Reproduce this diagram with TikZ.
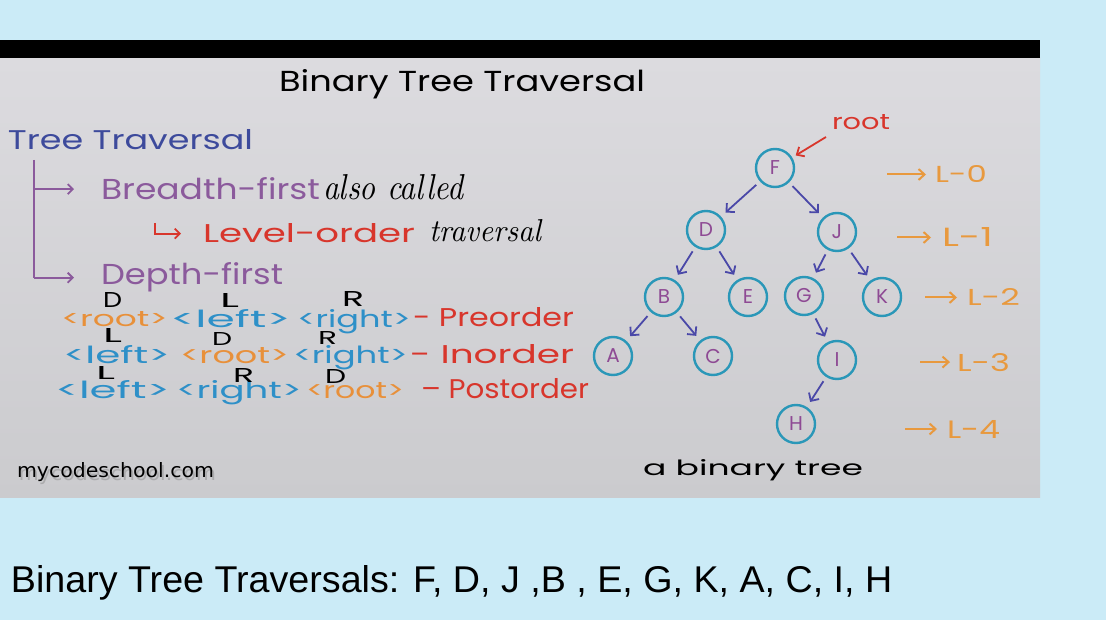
\documentclass[tikz,border=0pt]{standalone}
\usepackage{fontspec}
\usepackage{graphicx}
\usetikzlibrary{arrows.meta}
\newfontfamily\hand{Poppins}
\newfontfamily\webfont{DejaVu Sans}
\newfontfamily\bottomfont{Liberation Sans}
\definecolor{bgblue}{HTML}{CBEBF7}
\definecolor{panelTop}{HTML}{DCDBDF}
\definecolor{panelBot}{HTML}{CBCBCE}
\definecolor{ttblue}{HTML}{3D4A9C}
\definecolor{purp}{HTML}{8B5A9C}
\definecolor{redc}{HTML}{D8362C}
\definecolor{orangec}{HTML}{E8903A}
\definecolor{bluec}{HTML}{2E90C8}
\definecolor{circc}{HTML}{2A97B8}
\definecolor{letc}{HTML}{8E4A94}
\definecolor{edgec}{HTML}{4A48A8}
\definecolor{lvlc}{HTML}{E8993E}
\newcommand\hw[3]{\resizebox{#1pt}{#2pt}{\hand #3}}
\newcommand\cw[3]{\resizebox{#1pt}{#2pt}{\rmfamily\itshape #3}}
\tikzset{
  txt/.style={anchor=base west, inner sep=0pt, outer sep=0pt},
  tnode/.style={circle, draw=circc, line width=2.4pt, minimum size=38pt, inner sep=0pt,
    text=letc, font=\hand\fontsize{20}{20}\selectfont},
  tedge/.style={draw=edgec, line width=1.8pt, -{Straight Barb[length=6pt,width=12pt]},
    shorten <=5pt, shorten >=6pt},
  branch/.style={draw=purp, line width=1.8pt},
  barrow/.style={draw=purp, line width=1.8pt, -{Straight Barb[length=5pt,width=10pt]}},
  lvlarrow/.style={draw=lvlc, line width=2pt, -{Straight Barb[length=6pt,width=11pt]}},
  redarrow/.style={draw=redc, line width=1.8pt, -{Straight Barb[length=6pt,width=11pt]}},
}
\begin{document}
\begin{tikzpicture}[x=1pt,y=-1pt]
\useasboundingbox (0,0) rectangle (1106,620);
\fill[bgblue] (0,0) rectangle (1106,620);
\shade[top color=panelTop, bottom color=panelBot] (0,58) rectangle (1040,497);
\fill[black] (0,40) rectangle (1040,58);

% title
\node[txt] (title) at (279,92) {\hw{366}{22}{Binary Tree Traversal}};

% left column
\node[txt, text=ttblue] (tt) at (8,150) {\hw{245}{20}{Tree Traversal}};
\node[txt, text=purp] (breadth) at (101,200) {\hw{219}{22}{Breadth-first}};
\node[txt] (also) at (323,200) {\cw{140}{25}{also called}};
\node[txt, text=redc] (level) at (203,243) {\hw{212}{19}{Level-order}};
\node[txt] (trav) at (429,242) {\cw{112}{22}{traversal}};
\node[txt, text=purp] (depth) at (101,285) {\hw{182}{22}{Depth-first}};

\coordinate (trunk) at (34,160);
\draw[branch] (trunk) -- (trunk |- depth.west);
\draw[barrow] (trunk |- breadth.west) -- ([xshift=-27pt]breadth.west);
\draw[barrow] (trunk |- depth.west) -- ([xshift=-27pt]depth.west);
\coordinate (lvtop) at (155,223);
\draw[draw=redc, line width=1.8pt, -{Straight Barb[length=5pt,width=10pt]}] (lvtop) |- ([xshift=-22pt]level.west);

% line 1
\node[txt, text=orangec] (a1) at (61,327) {\hw{107}{15}{<root>}};
\node[txt, text=bluec] (b1) at (170,327) {\hw{121}{18}{<left>}};
\node[txt, text=bluec] (c1) at (297,327) {\hw{114}{18}{<right>}};
\node[txt, text=redc] (d1) at (413,327) {\hw{161}{19}{- Preorder}};
\node[txt] (x1) at (103,308) {\hw{19}{15}{D}};
\node[txt] (y1) at (220,308) {\hw{19}{14}{L}};
\node[txt] (z1) at (342,307) {\hw{22}{15}{R}};

% line 2
\node[txt, text=bluec] (a2) at (63,363) {\hw{107}{18}{<left>}};
\node[txt, text=orangec] (b2) at (180,363) {\hw{109}{16}{<root>}};
\node[txt, text=bluec] (c2) at (293,363) {\hw{115}{18}{<right>}};
\node[txt, text=redc] (d2) at (410,363) {\hw{164}{19}{- Inorder}};
\node[txt] (x2) at (103,343) {\hw{19}{14}{L}};
\node[txt] (y2) at (212,346) {\hw{20}{13}{D}};
\node[txt] (z2) at (318,345) {\hw{19}{13}{R}};

% line 3
\node[txt, text=bluec] (a3) at (55,398) {\hw{115}{18}{<left>}};
\node[txt, text=bluec] (b3) at (176,398) {\hw{126}{18}{<right>}};
\node[txt, text=orangec] (c3) at (306,398) {\hw{98}{16}{<root>}};
\node[txt, text=redc] (d3) at (421,398) {\hw{168}{20}{– Postorder}};
\node[txt] (x3) at (96,380) {\hw{19}{13}{L}};
\node[txt] (y3) at (233,382) {\hw{21}{14}{R}};
\node[txt] (z3) at (325,383) {\hw{21}{14}{D}};

% watermark
\node[txt, text=black!45, opacity=.5] (wms) at (19,480) {\resizebox{197pt}{15pt}{\webfont mycodeschool.com}};
\node[txt] (wm) at (17,477) {\resizebox{197pt}{15pt}{\webfont mycodeschool.com}};

% tree
\node[tnode] (F) at (775,168) {F};
\node[tnode] (D) at (706,230) {D};
\node[tnode] (J) at (837,232) {J};
\node[tnode] (B) at (664,297) {B};
\node[tnode] (E) at (748,297) {E};
\node[tnode] (G) at (804,296) {G};
\node[tnode] (K) at (882,297) {K};
\node[tnode] (A) at (613,356) {A};
\node[tnode] (C) at (713,356) {C};
\node[tnode] (I) at (837,360) {I};
\node[tnode] (H) at (796,424) {H};
\draw[tedge] (F) -- (D);
\draw[tedge] (F) -- (J);
\draw[tedge] (D) -- (B);
\draw[tedge] (D) -- (E);
\draw[tedge] (J) -- (G);
\draw[tedge] (J) -- (K);
\draw[tedge] (B) -- (A);
\draw[tedge] (B) -- (C);
\draw[tedge] (G) -- (I);
\draw[tedge] (I) -- (H);

\node[txt, text=redc] (root) at (832,130) {\hw{58}{15}{root}};
\coordinate (rs) at (826,137);
\draw[redarrow, shorten >=4pt] (rs) -- (F);

% levels
\node[txt, text=lvlc] (L0) at (935,183) {\hw{52}{17}{L-0}};
\node[txt, text=lvlc] (L1) at (942,247) {\hw{51}{19}{L-1}};
\node[txt, text=lvlc] (L2) at (967,306) {\hw{53}{17}{L-2}};
\node[txt, text=lvlc] (L3) at (957,371) {\hw{53}{18}{L-3}};
\node[txt, text=lvlc] (L4) at (947,438) {\hw{53}{18}{L-4}};
\draw[lvlarrow] ([xshift=-48pt]L0.west) -- ([xshift=-9pt]L0.west);
\draw[lvlarrow] ([xshift=-45pt]L1.west) -- ([xshift=-11pt]L1.west);
\draw[lvlarrow] ([xshift=-42pt]L2.west) -- ([xshift=-10pt]L2.west);
\draw[lvlarrow] ([xshift=-37pt]L3.west) -- ([xshift=-7pt]L3.west);
\draw[lvlarrow] ([xshift=-42pt]L4.west) -- ([xshift=-10pt]L4.west);

\node[txt] (cap) at (643,475) {\hw{220}{16}{a binary tree}};

% bottom
\node[txt] (bottom) at (11,592) {\resizebox{881pt}{27pt}{\bottomfont Binary Tree Traversals: F, D, J ,B , E, G, K, A, C, I, H}};
\end{tikzpicture}
\end{document}
